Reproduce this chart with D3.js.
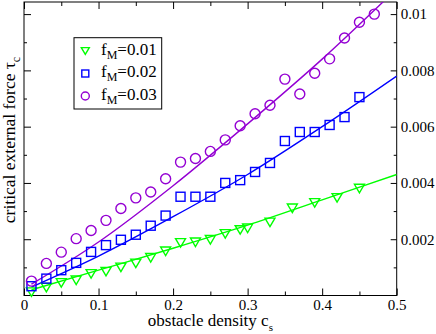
<!DOCTYPE html>
<html>
<head>
<meta charset="utf-8">
<script src="https://cdn.jsdelivr.net/npm/d3@7"></script>
<style>
  body { margin: 0; background: #fff; }
  svg text { font-family: "Liberation Serif", "Times New Roman", serif !important; fill: #000; }
</style>
</head>
<body>
<script>
// data
var cGreen = [0.01,0.03,0.05,0.07,0.09,0.11,0.13,0.15,0.17,0.19,0.21,0.23,0.25,0.27,0.29,0.30,0.33,0.36,0.39,0.42,0.45];
var tauGreen = [0.00012,0.00028,0.00045,0.00054,0.00077,0.00085,0.00100,0.00114,0.00134,0.00157,0.00187,0.00189,0.00198,0.00219,0.00233,0.00239,0.00260,0.00310,0.00329,0.00347,0.00380];

var cBlue = [0.01,0.03,0.05,0.07,0.09,0.11,0.13,0.15,0.17,0.19,0.21,0.23,0.25,0.27,0.29,0.31,0.33,0.35,0.37,0.39,0.41,0.43,0.45];
var tauBlue = [0.00033,0.00060,0.00090,0.00116,0.00155,0.00179,0.00198,0.00216,0.00248,0.00284,0.00351,0.00351,0.00351,0.00400,0.00410,0.00439,0.00471,0.00549,0.00581,0.00581,0.00606,0.00634,0.00705];

var cPurple = [0.01,0.03,0.05,0.07,0.09,0.11,0.13,0.15,0.17,0.19,0.21,0.23,0.25,0.27,0.29,0.31,0.33,0.35,0.37,0.39,0.41,0.43,0.45,0.47];
var tauPurple = [0.00051,0.00114,0.00154,0.00202,0.00231,0.00267,0.00309,0.00347,0.00368,0.00415,0.00474,0.00487,0.00512,0.00553,0.00603,0.00646,0.00676,0.00769,0.00716,0.00790,0.00841,0.00915,0.00971,0.01000];

// fitted curves (read at a few points)
var fitC = [0.01, 0.1, 0.2, 0.3, 0.4, 0.5];
var fitGreen = [0.0002, 0.0009, 0.00168, 0.0025, 0.0034, 0.0043];
var fitBlue = [0.0003, 0.0014, 0.0028, 0.0043, 0.0060, 0.0078];
var fitPurple = [0.0004, 0.0019, 0.0039, 0.0061, 0.0084, 0.0109];

var xTicks = [0, 0.1, 0.2, 0.3, 0.4, 0.5];
var xTickLabels = ["0", "0.1", "0.2", "0.3", "0.4", "0.5"];
var xMinor = [0.05, 0.15, 0.25, 0.35, 0.45];
var yTicks = [0.002, 0.004, 0.006, 0.008, 0.01];
var yTickLabels = ["0.002", "0.004", "0.006", "0.008", "0.01"];
var yMinor = [0.001, 0.003, 0.005, 0.007, 0.009];
var legendLabels = ["0.01", "0.02", "0.03"];

var green = "#00ff00", blue = "#0000ff", purple = "#9400d3";
var serif = "Liberation Serif";

// plot box
var pLeft = 24, pTop = 2, pRight = 396.7, pBottom = 295.5;

var svg = d3.select("body").append("svg")
    .attr("width", 436)
    .attr("height", 334);

var x = d3.scaleLinear().domain([0, 0.5]).range([pLeft, pRight]);
var y = d3.scaleLinear().domain([0, 0.01043]).range([pBottom, pTop]);

svg.append("clipPath").attr("id", "clip")
  .append("rect")
    .attr("x", pLeft).attr("y", pTop)
    .attr("width", pRight - pLeft).attr("height", pBottom - pTop);

// axes, ticks point inward
function axisLines(g) {
  g.select(".domain").remove();
  g.attr("font-family", serif).attr("font-size", 15);
  g.selectAll("line").attr("stroke", "#000");
  g.selectAll("text").style("font-family", serif).style("font-size", "15px");
}

svg.append("g").attr("transform", "translate(0," + pBottom + ")")
    .call(d3.axisBottom(x).tickValues(xTicks).tickSize(-7).tickPadding(4)
      .tickFormat(function(d, i) { return xTickLabels[i]; }))
    .call(axisLines);
svg.append("g").attr("transform", "translate(0," + pBottom + ")")
    .call(d3.axisBottom(x).tickValues(xMinor).tickSize(-4).tickFormat(""))
    .call(axisLines);

svg.append("g").attr("transform", "translate(0," + pTop + ")")
    .call(d3.axisTop(x).tickValues(xTicks).tickSize(-7).tickFormat(""))
    .call(axisLines);
svg.append("g").attr("transform", "translate(0," + pTop + ")")
    .call(d3.axisTop(x).tickValues(xMinor).tickSize(-4).tickFormat(""))
    .call(axisLines);

svg.append("g").attr("transform", "translate(" + pLeft + ",0)")
    .call(d3.axisLeft(y).tickValues(yTicks).tickSize(-7).tickFormat(""))
    .call(axisLines);
svg.append("g").attr("transform", "translate(" + pLeft + ",0)")
    .call(d3.axisLeft(y).tickValues(yMinor).tickSize(-3).tickFormat(""))
    .call(axisLines);

svg.append("g").attr("transform", "translate(" + pRight + ",0)")
    .call(d3.axisRight(y).tickValues(yTicks).tickSize(-6).tickPadding(4)
      .tickFormat(function(d, i) { return yTickLabels[i]; }))
    .call(axisLines);
svg.append("g").attr("transform", "translate(" + pRight + ",0)")
    .call(d3.axisRight(y).tickValues(yMinor).tickSize(-3).tickFormat(""))
    .call(axisLines);

svg.append("rect")
    .attr("x", pLeft).attr("y", pTop)
    .attr("width", pRight - pLeft).attr("height", pBottom - pTop)
    .attr("fill", "none").attr("stroke", "#000").attr("stroke-width", 1);

// fit lines
var line = d3.line()
    .x(function(d) { return x(d[0]); })
    .y(function(d) { return y(d[1]); })
    .curve(d3.curveMonotoneX);

var fits = [[fitGreen, green], [fitBlue, blue], [fitPurple, purple]];
fits.forEach(function(f) {
  svg.append("path")
      .attr("clip-path", "url(#clip)")
      .attr("d", line(fitC.map(function(c, i) { return [c, f[0][i]]; })))
      .attr("fill", "none")
      .attr("stroke", f[1])
      .attr("stroke-width", 1.4);
});

// markers
var triangle = function(s) {
  var h = s * 0.85;
  return "M" + (-s / 2) + "," + (-h / 2) + "L" + (s / 2) + "," + (-h / 2) + "L0," + (h / 2) + "Z";
};

svg.selectAll(".tri")
    .data(cGreen)
  .enter().append("path")
    .attr("class", "tri")
    .attr("transform", function(d, i) { return "translate(" + x(d) + "," + y(tauGreen[i]) + ")"; })
    .attr("d", triangle(10))
    .attr("fill", "none").attr("stroke", green).attr("stroke-width", 1.4);

svg.selectAll(".sq")
    .data(cBlue)
  .enter().append("rect")
    .attr("class", "sq")
    .attr("x", function(d) { return x(d) - 4.5; })
    .attr("y", function(d, i) { return y(tauBlue[i]) - 4.5; })
    .attr("width", 9).attr("height", 9)
    .attr("fill", "none").attr("stroke", blue).attr("stroke-width", 1.4);

svg.selectAll(".circ")
    .data(cPurple)
  .enter().append("circle")
    .attr("class", "circ")
    .attr("cx", function(d) { return x(d); })
    .attr("cy", function(d, i) { return y(tauPurple[i]); })
    .attr("r", 5)
    .attr("fill", "none").attr("stroke", purple).attr("stroke-width", 1.4);

// legend
svg.append("rect")
    .attr("x", 74).attr("y", 37.7).attr("width", 87.7).attr("height", 71.3)
    .attr("fill", "#fff").attr("stroke", "#000").attr("stroke-width", 1);

var rowY = [51, 73.5, 96];
svg.append("path")
    .attr("transform", "translate(85.3," + rowY[0] + ")")
    .attr("d", triangle(8))
    .attr("fill", "none").attr("stroke", green).attr("stroke-width", 1.4);
svg.append("rect")
    .attr("x", 85.3 - 3.5).attr("y", rowY[1] - 3.5).attr("width", 7).attr("height", 7)
    .attr("fill", "none").attr("stroke", blue).attr("stroke-width", 1.4);
svg.append("circle")
    .attr("cx", 85.3).attr("cy", rowY[2]).attr("r", 4)
    .attr("fill", "none").attr("stroke", purple).attr("stroke-width", 1.4);

legendLabels.forEach(function(lab, i) {
  var t = svg.append("text")
      .attr("x", 101).attr("y", rowY[i] + 3.5)
      .attr("font-size", 17);
  t.append("tspan").text("f");
  t.append("tspan").attr("dy", 4).attr("font-size", 12).text("M");
  t.append("tspan").attr("dy", -4).text("=" + lab);
});

// axis titles
var xt = svg.append("text")
    .attr("x", (pLeft + pRight) / 2).attr("y", 326)
    .attr("text-anchor", "middle").attr("font-size", 17);
xt.append("tspan").text("obstacle density c");
xt.append("tspan").attr("dy", 5).attr("font-size", 11).text("s");

var yt = svg.append("text")
    .attr("transform", "translate(14.5,140) rotate(-90)")
    .attr("text-anchor", "middle").attr("font-size", 17.5);
yt.append("tspan").text("critical external force \u03c4");
yt.append("tspan").attr("dy", 5).attr("font-size", 12).text("c");
</script>
</body>
</html>
